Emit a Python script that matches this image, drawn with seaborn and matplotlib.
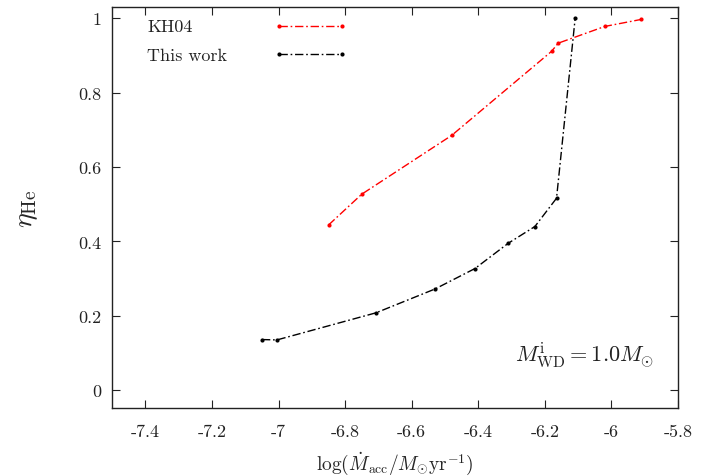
import matplotlib
matplotlib.use("Agg")
import matplotlib.pyplot as plt
import seaborn as sns
import pandas as pd
from matplotlib.lines import Line2D

kh04_x = [-6.85, -6.75, -6.48, -6.18, -6.16, -6.02, -5.91]
kh04_y = [0.444, 0.527, 0.685, 0.911, 0.933, 0.978, 0.997]
this_x = [-7.05, -7.005, -6.707, -6.53, -6.41, -6.31, -6.23, -6.165, -6.109]
this_y = [0.136, 0.135, 0.208, 0.272, 0.327, 0.395, 0.44, 0.516, 1.0]
series_names = ["KH04", "This work"]
series_colors = ["red", "black"]
xticks = [-7.4, -7.2, -7.0, -6.8, -6.6, -6.4, -6.2, -6.0, -5.8]
xticklabels = ["-7.4", "-7.2", "-7", "-6.8", "-6.6", "-6.4", "-6.2", "-6", "-5.8"]
yticks = [0, 0.2, 0.4, 0.6, 0.8, 1.0]
yticklabels = ["0", "0.2", "0.4", "0.6", "0.8", "1"]

sns.set_style("ticks")
plt.rcParams["font.family"] = ["cmr10", "DejaVu Serif"]
plt.rcParams["mathtext.fontset"] = "cm"
plt.rcParams["axes.unicode_minus"] = False

df = pd.concat([
    pd.DataFrame({"x": kh04_x, "y": kh04_y, "s": series_names[0]}),
    pd.DataFrame({"x": this_x, "y": this_y, "s": series_names[1]}),
])
DASH = [6, 2, 1.2, 2]

fig = plt.figure(figsize=(7.19, 4.77), dpi=100)
ax = fig.add_axes([0.156, 0.1426, 0.787, 0.8404])
sns.lineplot(data=df, x="x", y="y", hue="s", palette=dict(zip(series_names, series_colors)),
             sort=False, marker="o", markersize=3, markeredgewidth=0, linewidth=1.0,
             ax=ax, legend=False)
for l in ax.get_lines():
    l.set_dashes(DASH)

ax.set_xlim(-7.5, -5.8)
ax.set_ylim(-0.048, 1.03)
ax.set_xticks(xticks)
ax.set_xticklabels(xticklabels)
ax.set_yticks(yticks)
ax.set_yticklabels(yticklabels)
ax.tick_params(direction="in", top=True, right=True, length=6, width=0.8, labelsize=13, colors="#222222")
ax.tick_params(axis="x", pad=11)
ax.tick_params(axis="y", pad=8)
for s in ax.spines.values():
    s.set_linewidth(1.0)
    s.set_color("#222222")
ax.set_xlabel(r"$\log(\dot{M}_{\rm acc}/M_{\odot}{\rm yr}^{-1})$", fontsize=14, labelpad=8)
ax.set_ylabel(r"$\eta_{\rm He}$", fontsize=20, labelpad=27)

handles = [Line2D([0], [0], color=c, lw=1.0, dashes=DASH, marker="o", markersize=3, markeredgewidth=0)
           for c in series_colors]
ax.legend(handles, [" ", " "], loc="upper left", bbox_to_anchor=((273 - 112) / 566, (409 - 21) / 401),
          frameon=False, numpoints=2, handlelength=4.1, handletextpad=0, borderpad=0, borderaxespad=0,
          fontsize=13, labelspacing=0.65)
for name, yy in zip(series_names, [(409 - 27) / 401, (409 - 56) / 401]):
    ax.text((147 - 112) / 566, yy, name, transform=ax.transAxes, fontsize=13, ha="left", va="center",
            color="#222222")
ax.text(0.958, 0.135, r"$M_{\rm WD}^{\rm i}=1.0M_{\odot}$", transform=ax.transAxes, fontsize=16,
        ha="right", va="center", color="#222222")

fig.savefig("out.png", dpi=100)
